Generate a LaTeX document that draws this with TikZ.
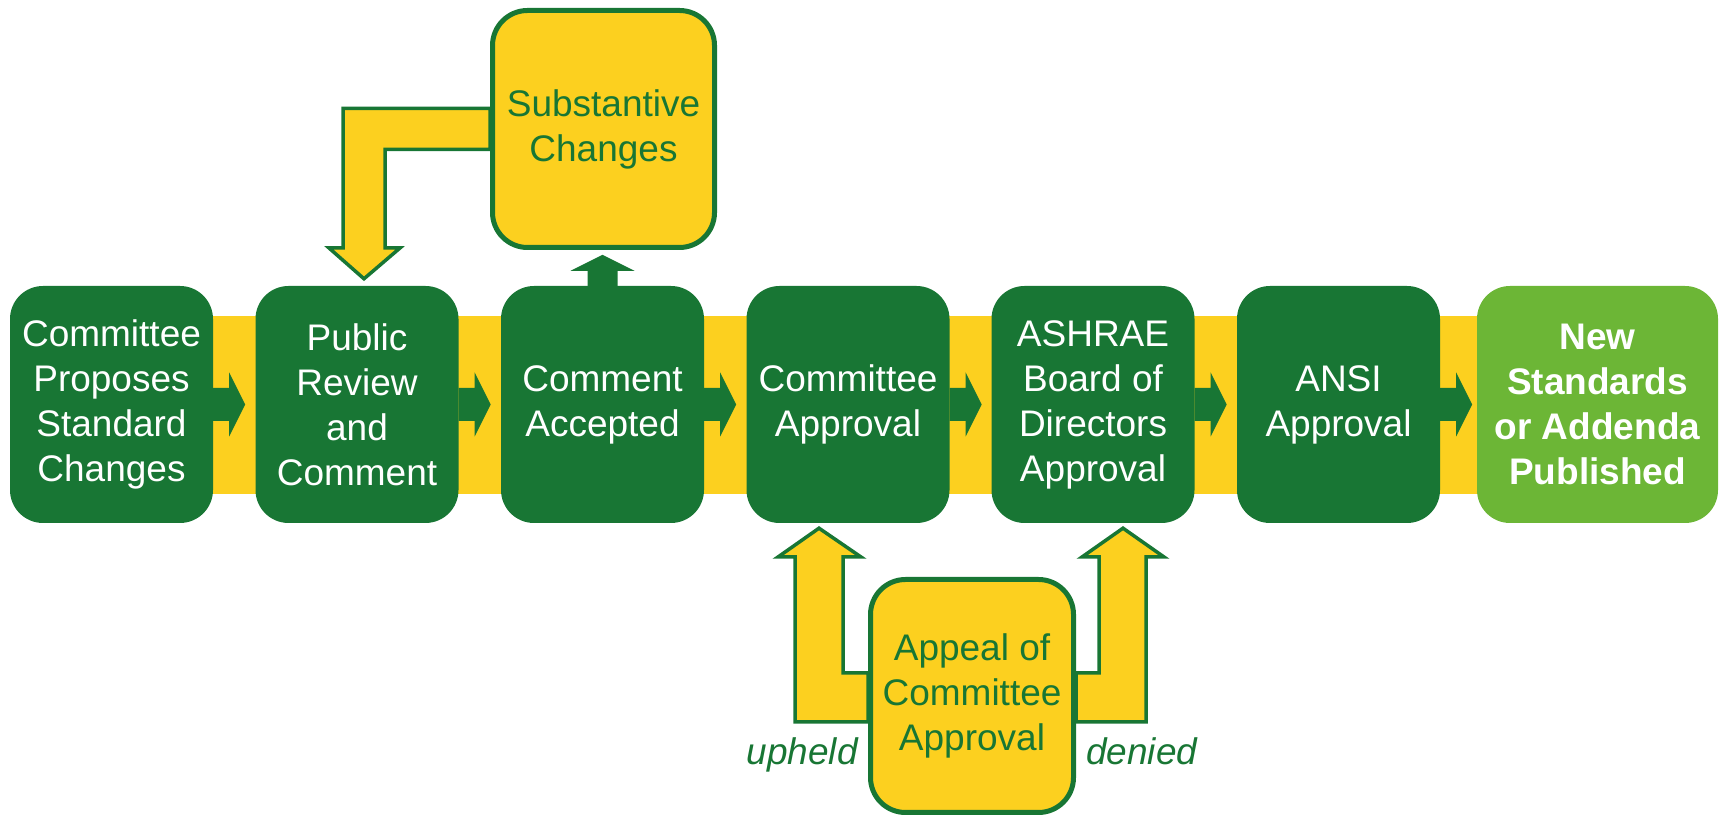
\documentclass[tikz,border=0pt]{standalone}
\usepackage{fontspec}
\setmainfont{Liberation Sans}
\usetikzlibrary{calc}
\definecolor{dkg}{RGB}{24,118,52}
\definecolor{yel}{RGB}{252,208,31}
\definecolor{ltg}{RGB}{108,182,54}
\pgfdeclarelayer{bg}
\pgfsetlayers{bg,main}
\begin{document}
\begin{tikzpicture}[x=1pt,y=1pt,
  txt/.style={font=\fontsize{37}{45}\selectfont, align=center},
  stage/.style={txt, fill=dkg, text=white, rounded corners=33pt, minimum width=203pt, minimum height=237pt, inner sep=0pt},
  final/.style={stage, fill=ltg, minimum width=241pt, font=\fontsize{37}{45}\selectfont\bfseries},
  ybox/.style={txt, fill=yel, draw=dkg, line width=5pt, text=dkg, rounded corners=35pt, inner sep=0pt},
  yarrow/.style={fill=yel, draw=dkg, line width=3.5pt},
  garrow/.style={fill=dkg},
  lbl/.style={font=\fontsize{37}{45}\selectfont\itshape, text=dkg, inner sep=0pt}]
\useasboundingbox (0,0) rectangle (1723,818);

\node[stage] (b1) at (111.5,413.5) {Committee\\Proposes\\Standard\\Changes};
\node[stage] (b2) at (357,413.5) {Public\\Review\\and\\Comment};
\node[stage] (b3) at (602.5,413.5) {Comment\\Accepted};
\node[stage] (b4) at (848,413.5) {Committee\\Approval};
\node[stage] (b5) at (1093,413.5) {ASHRAE\\Board of\\Directors\\Approval};
\node[stage] (b6) at (1338.5,413.5) {ANSI\\Approval};
\node[final] (b7) at (1597.5,413.5) {New\\Standards\\or Addenda\\Published};
\node[ybox, minimum width=222pt, minimum height=237pt] (sub) at (603.5,689) {Substantive\\Changes};
\node[ybox, minimum width=203pt, minimum height=233pt] (app) at (972,122) {Appeal of\\Committee\\Approval};

\node[lbl, anchor=base east] (uph) at (858,53) {upheld};
\node[lbl, anchor=base west] (den) at (1086,53) {denied};

\begin{pgfonlayer}{bg}
  \fill[yel] ([yshift=-89.5pt]b1.center) rectangle ([yshift=88.5pt]b7.center);
  \foreach \a in {b1,b2,b3,b4,b5,b6}{
    \fill[garrow] ([yshift=16.5pt]\a.east) -- ++(16,0) -- ++(0,15.5) -- ++(16,-32) -- ++(-16,-32) -- ++(0,15.5) -- ++(-16,0) -- cycle;
  }
  % up arrow from Comment Accepted to Substantive Changes
  \fill[garrow] ([xshift=-15pt]b3.north) -- ++(0,15) -- ++(-17,0) -- ++(32,16) -- ++(32,-16) -- ++(-17,0) -- ++(0,-15) -- cycle;
  % feedback arrow
  \draw[yarrow] ([yshift=20.5pt]sub.west) -| (343,570) -- (329,570) -- ([xshift=7pt,yshift=7pt]b2.north) -- (400,570) -- (385,570) |- ([yshift=-20.5pt]sub.west) -- cycle;
  % upheld arrow
  \draw[yarrow] ([yshift=23pt]app.west) -- (843,145) -- (843,261) -- (861,261) -- ([xshift=-29pt,yshift=-5pt]b4.south) -- (778,261) -- (795,261) -- (795,96) -- ([yshift=-26pt]app.west) -- cycle;
  % denied arrow
  \draw[yarrow] ([yshift=23pt]app.east) -- (1099,145) -- (1099,261) -- (1082,261) -- ([xshift=30pt,yshift=-5pt]b5.south) -- (1164,261) -- (1146,261) -- (1146,96) -- ([yshift=-26pt]app.east) -- cycle;
\end{pgfonlayer}
\end{tikzpicture}
\end{document}
